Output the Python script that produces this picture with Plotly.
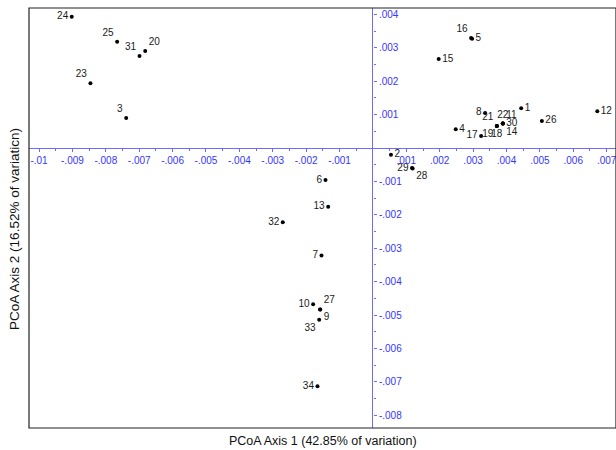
import plotly.graph_objects as go

# Sample ids and PCoA coordinates
sample_ids = [str(i) for i in range(1, 35)]
axis1 = [0.00444, 0.00054, -0.00739, 0.00248, 0.00297, -0.00142, -0.00154, 0.00336, -0.00158, -0.00179,
         0.00389, 0.00672, -0.00134, 0.00389, 0.00197, 0.00294, 0.00324, 0.00371, 0.00371, -0.00682,
         0.00371, 0.00389, -0.00846, -0.00902, -0.00766, 0.00506, -0.00158, 0.00119, 0.00117, 0.00389,
         -0.00699, -0.00270, -0.00161, -0.00166]
axis2 = [0.00119, -0.00020, 0.00090, 0.00056, 0.00327, -0.00096, -0.00322, 0.00105, -0.00483, -0.00468,
         0.00073, 0.00110, -0.00176, 0.00073, 0.00266, 0.00329, 0.00036, 0.00066, 0.00066, 0.00290,
         0.00066, 0.00073, 0.00194, 0.00393, 0.00318, 0.00081, -0.00483, -0.00061, -0.00060, 0.00073,
         0.00275, -0.00222, -0.00514, -0.00713]
label_pos = ["middle right", "middle right", "top left", "middle right", "middle right", "middle left",
             "middle left", "middle left", "bottom right", "middle left", "top right", "middle right",
             "middle left", "bottom right", "middle right", "top left", "middle left", "bottom center",
             "bottom left", "top right", "top left", "top center", "top left", "middle left", "top left",
             "middle right", "top right", "bottom right", "middle left", "middle right", "top left",
             "middle left", "bottom left", "middle left"]

x_tick_vals = [-0.010, -0.009, -0.008, -0.007, -0.006, -0.005, -0.004, -0.003, -0.002, -0.001,
               0.001, 0.002, 0.003, 0.004, 0.005, 0.006, 0.007]
x_tick_text = ["-.01", "-.009", "-.008", "-.007", "-.006", "-.005", "-.004", "-.003", "-.002", "-.001",
               ".001", ".002", ".003", ".004", ".005", ".006", ".007"]
y_tick_vals = [0.004, 0.003, 0.002, 0.001, -0.001, -0.002, -0.003, -0.004, -0.005, -0.006, -0.007, -0.008]
y_tick_text = [".004", ".003", ".002", ".001", "-.001", "-.002", "-.003", "-.004", "-.005", "-.006",
               "-.007", "-.008"]
x_minor = [v / 10000 for v in range(-105, 75, 10)]
y_minor = [v / 10000 for v in range(-85, 45, 10)]

x_title = "PCoA Axis 1 (42.85% of variation)"
y_title = "PCoA Axis 2 (16.52% of variaticn)"

x_range = [-0.0103, 0.00728]
y_range = [-0.00838, 0.00419]
x_zero_pos = (0 - y_range[0]) / (y_range[1] - y_range[0])
y_zero_pos = (0 - x_range[0]) / (x_range[1] - x_range[0])

AX = "#6b6bff"
LBL = "#3535ff"
FONT = "Arial, Liberation Sans, sans-serif"

fig = go.Figure()
fig.add_trace(go.Scatter(
    x=axis1, y=axis2, mode="markers+text", text=sample_ids, textposition=label_pos,
    marker=dict(size=4, color="black"),
    textfont=dict(family=FONT, size=10, color="#1a1a1a"),
    cliponaxis=False, hoverinfo="skip", showlegend=False))

fig.update_layout(
    width=616, height=450, margin=dict(l=29, r=0, t=8, b=22),
    paper_bgcolor="white", plot_bgcolor="white",
    xaxis=dict(range=x_range, anchor="free", position=x_zero_pos, showgrid=False,
               zeroline=True, zerolinecolor=AX, zerolinewidth=1,
               tickmode="array", tickvals=x_tick_vals, ticktext=x_tick_text, ticks="outside",
               tickcolor=AX, tickwidth=1, ticklen=3, automargin=False, ticklabeloverflow="allow",
               showline=False,
               tickfont=dict(family=FONT, size=10, color=LBL),
               minor=dict(tickmode="array", tickvals=x_minor, ticklen=2, tickcolor=AX, ticks="outside")),
    yaxis=dict(range=y_range, anchor="free", position=y_zero_pos, showgrid=False,
               zeroline=True, zerolinecolor=AX, zerolinewidth=1,
               tickmode="array", tickvals=y_tick_vals, ticktext=y_tick_text, ticks="outside", side="right",
               tickcolor=AX, tickwidth=1, ticklen=3, automargin=False, ticklabeloverflow="allow",
               showline=False,
               tickfont=dict(family=FONT, size=10, color=LBL),
               minor=dict(tickmode="array", tickvals=y_minor, ticklen=2, tickcolor=AX, ticks="outside")),
    shapes=[dict(type="rect", xref="paper", yref="paper", x0=0, x1=1, y0=0, y1=1,
                 line=dict(color="#222", width=1.2), layer="above")],
    annotations=[
        dict(text=x_title, xref="paper", yref="paper", x=0.5, y=0, yanchor="top", yshift=-4,
             showarrow=False, font=dict(family=FONT, size=12.5, color="#111")),
        dict(text=y_title, xref="paper", yref="paper", x=0, y=0.474, xanchor="center", xshift=-14,
             textangle=-90, showarrow=False, font=dict(family=FONT, size=13.5, color="#111")),
    ],
)

fig.write_html("out.html", config={"displayModeBar": False},
               post_script="document.body.style.margin='0';document.body.style.overflow='hidden';")
